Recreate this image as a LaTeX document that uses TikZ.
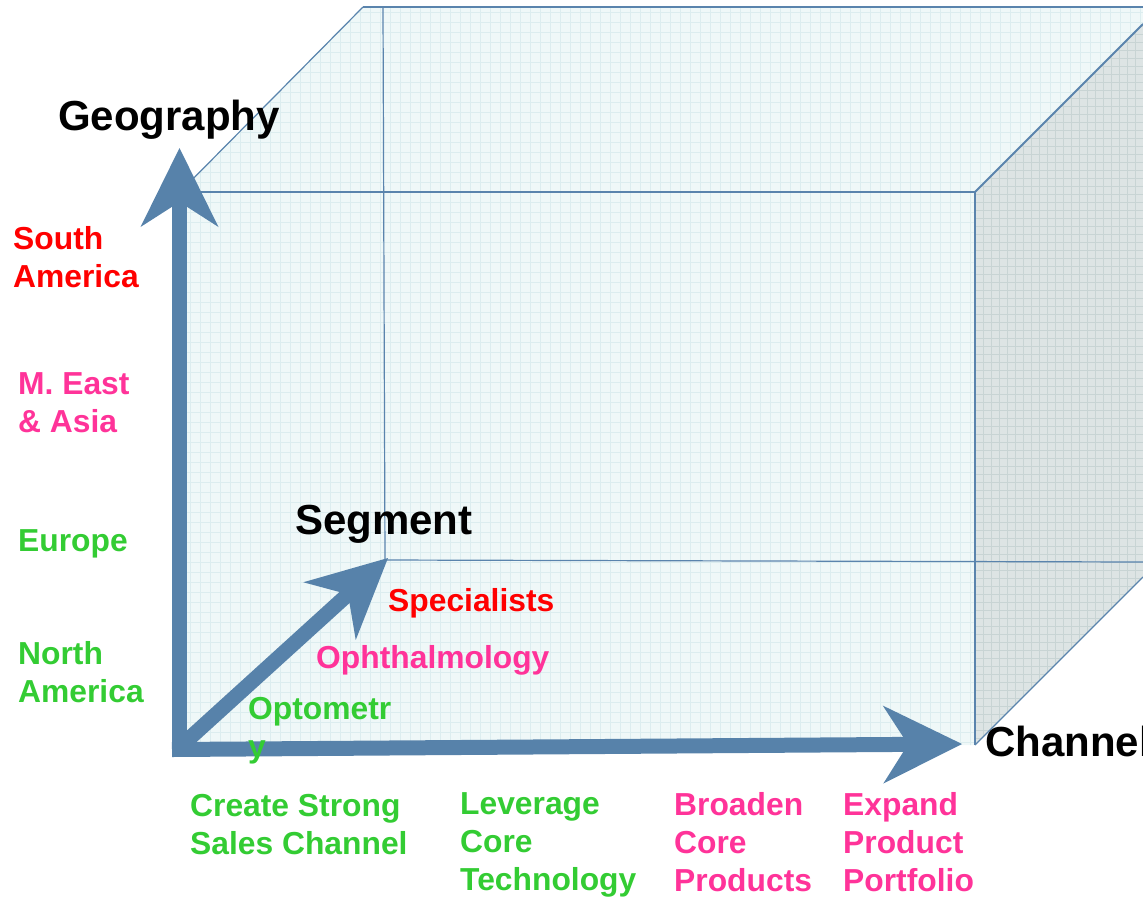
\documentclass[tikz,border=0pt]{standalone}
\usepackage{fontspec}
\setmainfont{Liberation Sans}
\usetikzlibrary{arrows.meta}
\definecolor{axisblue}{HTML}{5782AA}
\definecolor{edgeblue}{HTML}{5A84AD}
\definecolor{faceFill}{HTML}{EFF8F8}
\definecolor{faceGrid}{HTML}{DCEDEF}
\definecolor{sideFill}{HTML}{DDE4E4}
\definecolor{sideGrid}{HTML}{C8D4D4}
\definecolor{lblred}{HTML}{FF0000}
\definecolor{lblpink}{HTML}{FF3399}
\definecolor{lblgreen}{HTML}{33CC33}
\begin{document}
\begin{tikzpicture}[x=1pt,y=-1pt,
  axis/.style={draw=axisblue, line width=15pt,
    -{Stealth[length=79pt,width=78pt,inset=25pt,line width=0pt]}},
  edge/.style={draw=edgeblue, line width=2pt},
  thinedge/.style={draw=edgeblue, line width=1.2pt},
  title/.style={anchor=north west, inner sep=0pt, font=\fontsize{42}{48}\selectfont\bfseries},
  lbl/.style={anchor=north west, inner sep=0pt, align=left, font=\fontsize{31.8}{38}\selectfont\bfseries},
]
\useasboundingbox (0,0) rectangle (1143,898);
\clip (0,0) rectangle (1143,898);

% whole cube hull: light tinted fill with a fine grid
\begin{scope}
  \clip (180,192) -- (363,7) -- (1143,7) -- (1143,577) -- (975,745) -- (180,745) -- cycle;
  \fill[faceFill] (0,0) rectangle (1143,898);
  \foreach \gx in {180,190,...,1143} \draw[faceGrid, line width=0.7pt] (\gx,0) -- (\gx,898);
  \foreach \gy in {2,12,...,898} \draw[faceGrid, line width=0.7pt] (0,\gy) -- (1143,\gy);
\end{scope}

% right side face: darker grey with grid
\begin{scope}
  \clip (975,192) -- (1143,24) -- (1143,577) -- (975,745) -- cycle;
  \fill[sideFill] (0,0) rectangle (1143,898);
  \foreach \gx in {975,983,...,1143} \draw[sideGrid, line width=0.7pt] (\gx,0) -- (\gx,898);
  \foreach \gy in {2,10,...,898} \draw[sideGrid, line width=0.7pt] (0,\gy) -- (1143,\gy);
\end{scope}

% cube corners
\coordinate (ftl) at (180,192);
\coordinate (ftr) at (975,192);
\coordinate (fbr) at (975,745);
\coordinate (btl) at (363,7);
\coordinate (btr) at (1143,7);
\coordinate (rtr) at (1143,24);
\coordinate (rbr) at (1143,577);
\coordinate (bvt) at (383,8);
\coordinate (bbl) at (385,560);
\coordinate (bbr) at (1143,562);

% hidden back edges
\draw[thinedge] (bvt) -- (bbl);
\draw[thinedge] (bbl) -- (bbr);
% visible edges
\draw[edge] (btl) -- (btr);
\draw[thinedge] (ftl) -- (btl);
\draw[edge] (ftl) -- (ftr);
\draw[edge] (ftr) -- (rtr);
\draw[edge] (ftr) -- (fbr);
\draw[thinedge] (fbr) -- (rbr);

% axes
\coordinate (geoBase) at (179.5,757);
\coordinate (geoTip) at (179.5,148);
\coordinate (chanBase) at (172,749.5);
\coordinate (chanTip) at (962,744);
\coordinate (segBase) at (181,746);
\coordinate (segTip) at (388,558);
\draw[axis] (geoBase) -- (geoTip);
\draw[axis] (chanBase) -- (chanTip);
\draw[axis] (segBase) -- (segTip);

% axis titles
\node[title] (tGeo) at (58,100) {Geography};
\node[title] (tSeg) at (295,505) {Segment};
\node[title] (tChan) at (985,726) {Channel};

% geography labels
\node[lbl, text=lblred] (gSA) at (13,226) {South\\America};
\node[lbl, text=lblpink] (gME) at (18,372) {M. East\\\& Asia};
\node[lbl, text=lblgreen] (gEU) at (18,529) {Europe};
\node[lbl, text=lblgreen] (gNA) at (18,641) {North\\America};

% segment labels
\node[lbl, text=lblred] (sSp) at (388,588) {Specialists};
\node[lbl, text=lblpink] (sOph) at (316,645) {Ophthalmology};
\node[lbl, text=lblgreen] (sOpt) at (248,697) {Optometr\\y};

% channel labels
\node[lbl, text=lblgreen] (cCr) at (190,794) {Create Strong\\Sales Channel};
\node[lbl, text=lblgreen] (cLe) at (460,792) {Leverage\\Core\\Technology};
\node[lbl, text=lblpink] (cBr) at (674,792) {Broaden\\Core\\Products};
\node[lbl, text=lblpink] (cEx) at (843,792) {Expand\\Product\\Portfolio};
\end{tikzpicture}
\end{document}
